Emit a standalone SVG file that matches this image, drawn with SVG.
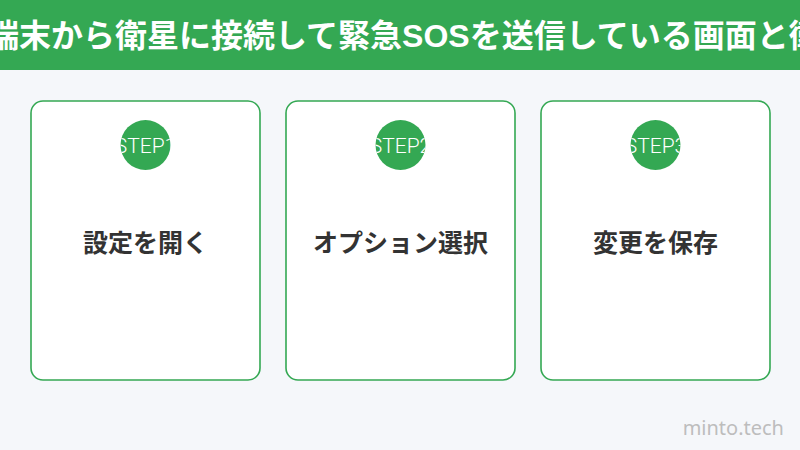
<svg xmlns="http://www.w3.org/2000/svg" width="800" height="450" viewBox="0 0 800 450">
<style>
.card{fill:#ffffff;stroke:#34a853;stroke-width:1.6}
.badge{fill:#34a853}
.step{font-family:Roboto,"Noto Sans",sans-serif;font-weight:300;font-size:21px;fill:#ffffff;text-anchor:middle}
.label{font-family:"Noto Sans CJK JP",sans-serif;font-weight:700;font-size:25px;fill:#333333;text-anchor:middle}
.title{font-family:"Noto Sans CJK JP",sans-serif;font-weight:700;font-size:32px;fill:#ffffff}
.latin{font-family:"Liberation Sans",Arial,sans-serif}
.mark{font-family:"Noto Sans","Liberation Sans",sans-serif;font-size:20px;fill:#bdbdbd;text-anchor:end}
</style>
<defs>
<clipPath id="c1"><circle cx="145.5" cy="145" r="25"/></clipPath>
<clipPath id="c2"><circle cx="400.5" cy="145" r="25"/></clipPath>
<clipPath id="c3"><circle cx="655.5" cy="145" r="25"/></clipPath>
</defs>
<rect x="0" y="0" width="800" height="450" fill="#f5f7fa"/>
<g id="header">
<rect x="0" y="0" width="800" height="70" fill="#34a853"/>
<text class="title" x="-13" y="47">端末から衛星に接続して緊急<tspan class="latin">SOS</tspan>を送信している画面と衛星の位置</text>
</g>
<g id="step1">
<rect class="card" x="31" y="101" width="229" height="279" rx="12"/>
<circle class="badge" cx="145.5" cy="145" r="25"/>
<text class="step" x="145.5" y="153" clip-path="url(#c1)">STEP1</text>
<text class="label" x="145.5" y="252">設定を開く</text>
</g>
<g id="step2">
<rect class="card" x="286" y="101" width="229" height="279" rx="12"/>
<circle class="badge" cx="400.5" cy="145" r="25"/>
<text class="step" x="400.5" y="153" clip-path="url(#c2)">STEP2</text>
<text class="label" x="400.5" y="252">オプション選択</text>
</g>
<g id="step3">
<rect class="card" x="541" y="101" width="229" height="279" rx="12"/>
<circle class="badge" cx="655.5" cy="145" r="25"/>
<text class="step" x="655.5" y="153" clip-path="url(#c3)">STEP3</text>
<text class="label" x="655.5" y="252">変更を保存</text>
</g>
<g id="connectors"></g>
<text class="mark" x="784" y="435">minto.tech</text>
</svg>
